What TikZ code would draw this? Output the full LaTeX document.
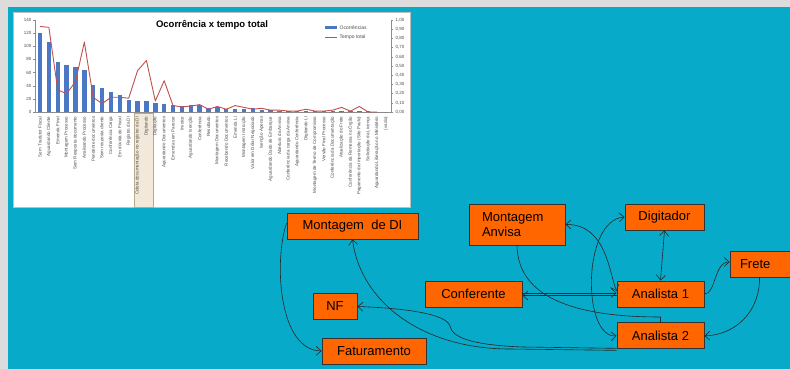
\documentclass[tikz,border=0pt]{standalone}
\usepackage{fontspec}
\setmainfont{Liberation Sans}
\usetikzlibrary{positioning}
\usetikzlibrary{arrows.meta}
\definecolor{boxorange}{HTML}{FF6600}
\definecolor{slide}{HTML}{07AAC8}
\definecolor{rim}{HTML}{DCDCDC}
\definecolor{barblue}{HTML}{4A78C4}
\definecolor{linered}{HTML}{C0504D}
\definecolor{hlfill}{HTML}{F3E9DA}
\definecolor{hldraw}{HTML}{BCA98A}
\tikzset{%
  onearrow/.style = {-{Straight Barb[length=5pt,width=9pt]},line width=0.6pt,draw=black!85},
  twoarrow/.style = {{Straight Barb[length=5pt,width=9pt]}-{Straight Barb[length=5pt,width=9pt]},
        line width=0.6pt,draw=black!85},
  plain/.style = {line width=0.6pt,draw=black!85},
  b/.style = {rectangle,draw=black!80,fill=boxorange,line width=0.9pt,
        font=\fontsize{13}{15}\selectfont,minimum height=26pt,inner sep=2pt},
  ylab/.style = {font=\fontsize{4.5}{5}\selectfont,inner sep=0.5pt,text=black!70},
  xlab/.style = {font=\fontsize{4.5}{5}\selectfont,inner sep=0.5pt,text=black!70,
        rotate=90,anchor=east},
  axis/.style = {draw=black!45,line width=0.4pt}
}
\begin{document}
\begin{tikzpicture}[x=1pt,y=-1pt]
  \useasboundingbox (0,0) rectangle (790,369);
  \fill[rim] (0,0) rectangle (790,369);
  \fill[slide] (8,7) rectangle (790,369);
  % chart
  \fill[white] (13,12) rectangle (410,207);
  \draw[black!25] (13,12) rectangle (410,207);
  \draw[hldraw,fill=hlfill] (134,113) rectangle (153,207);
  \draw[axis] (35,20) -- (35,112) -- (391,112) -- (391,20);
  \foreach \v in {0,20,...,140}{
    \draw[axis] (33,{112-0.657*\v}) -- (35,{112-0.657*\v});
    \node[ylab,anchor=east] (yl\v) at (32,{112-0.657*\v}) {\v};
  }
  \foreach \k/\t in {0/{0,00},1/{0,10},2/{0,20},3/{0,30},4/{0,40},5/{0,50},
        6/{0,60},7/{0,70},8/{0,80},9/{0,90},10/{1,00}}{
    \draw[axis] (391,{112-9.2*\k}) -- (393,{112-9.2*\k});
    \node[ylab,anchor=west] (yr\k) at (395,{112-9.2*\k}) {\t};
  }
  \foreach \v [count=\i from 0] in {120,107,76,71,68,64,41,37,30,26,19,16,16,14,12,
        10,9,10,10,6,8,5,4,5,6,3,3,2,2,2,2,1,1,1,1,1,1,1,0,0}{
    \fill[barblue] ({37.8+8.87*\i},112) rectangle ({42.2+8.87*\i},{112-0.657*\v});
  }
  \draw[linered,line width=0.9pt,line join=round] (40,{112-92*0.93})
    \foreach \t [count=\i from 1] in {0.92,0.24,0.20,0.33,0.76,0.16,0.09,0.16,0.16,
        0.15,0.45,0.56,0.12,0.34,0.07,0.055,0.065,0.08,0.03,0.06,0.03,0.07,0.05,
        0.03,0.04,0.02,0.02,0.01,0.01,0.03,0.01,0.01,0.02,0.05,0.01,0.06,0.0,0.0}{
      -- ({40+8.87*\i},{112-92*\t}) };
  \foreach \t [count=\i from 0] in {Sem Tradutor Fiscal,Aguardando Cliente,
        Emenda Final,Montagem Processo,Sem Resposta documento,Analisando Processo,
        Pendente documentos,Sem resposta cliente,Conferência Carga,
        Em dúvida do Fiscal,Registro da DI,Coleta documentação no registro da DI,
        Digitando,Digitação,Aguardando Documentos,Emenda sem Parecer,Invoice,
        Aguardando Isenção,Conferência,Resultado,Montagem Documentos,
        Recebendo Documentos,Emenda LI,Montagem Instrução,
        Valor em Dólar Negociado,Isenção Apenas,Aguardando Dado de Embarque,
        Abertura da Anvisa,Conferência da carga da Anvisa,Aguardando Conferência,
        Digitando LI,Montagem de Termo de Compromisso,Versão Final Processo,
        Conferência da Documentação,Atualização do Frete,
        Conferência da Remessa no Órgão,Pagamento da Importação (São Paulo),
        Solicitação da Licença,Aguardando Liberação no Ministério,(vazio)}{
    \node[xlab] (xl\i) at ({40+8.87*\i},116) {\t};
  }
  \node[font=\fontsize{9.5}{11}\selectfont\bfseries] (title) at (212,25) {Ocorrência x tempo total};
  \fill[barblue] (325,26.5) rectangle (337,29);
  \node[ylab,anchor=west,font=\fontsize{5}{6}\selectfont] (lg1) at (339,27.7) {Ocorrências};
  \draw[linered,line width=0.9pt] (325,37.7) -- (337,37.7);
  \node[ylab,anchor=west,font=\fontsize{5}{6}\selectfont] (lg2) at (339,37.7) {Tempo total};
  % flow
  \node[b,minimum width=131pt] (mdi) at (352.5,226) {Montagem\ \ de DI};
  \node[b,minimum width=96pt,minimum height=41pt,text width=70pt,align=left] (anv)
    at (517,224.5) {Montagem\\Anvisa};
  \node[b,minimum width=79pt] (dig) at (664.5,217) {Digitador};
  \node[b,minimum width=97pt] (con) at (473.5,294) {Conferente};
  \node[b,minimum width=87pt] (an1) at (660.5,294) {Analista 1};
  \node[b,minimum width=87pt,below=15pt of an1] (an2) {Analista 2};
  \node[b,minimum width=44pt] (nf) at (335,306.5) {NF};
  \node[b,minimum width=104pt] (fat) at (374,351) {Faturamento};
  \node[b,minimum width=70pt,text width=50pt,align=left] (fre) at (765,264) {Frete};
  \coordinate (j) at (660.5,317);
  \draw[onearrow] ([yshift=3pt]mdi.west) .. controls (274,260) and (278,350) .. (fat.west);
  \draw[onearrow] ([yshift=-1pt]an2.south west) -- (510,349)
    .. controls (420,349) and (360,300) .. (mdi.south);
  \draw[onearrow] ([yshift=1pt]an2.south west) -- (523,347)
    .. controls (470,345) and (452,337) .. (450,326)
    .. controls (446,313) and (400,308) .. (nf.east);
  \draw[plain] (anv.south) .. controls (518,300) and (580,317) .. (j) -- (an2.north);
  \draw[onearrow] ([yshift=1pt]con.east) -- ([yshift=1pt]an1.west);
  \draw[onearrow] ([yshift=-1.5pt]an1.west) -- ([yshift=-1.5pt]con.east);
  \draw[twoarrow] (anv.east) .. controls (606,224) and (609,272) .. ([yshift=3pt]an1.west);
  \draw[twoarrow] (dig.south) -- (an1.north);
  \draw[twoarrow] (dig.west) .. controls (582,220) and (582,338) .. (an2.west);
  \draw[onearrow] (an1.east) .. controls (716,294) and (714,262) .. ([yshift=2pt]fre.west);
  \draw[onearrow] ([xshift=30pt]fre.south west) .. controls (760,312) and (735,335) .. (an2.east);
\end{tikzpicture}
\end{document}
